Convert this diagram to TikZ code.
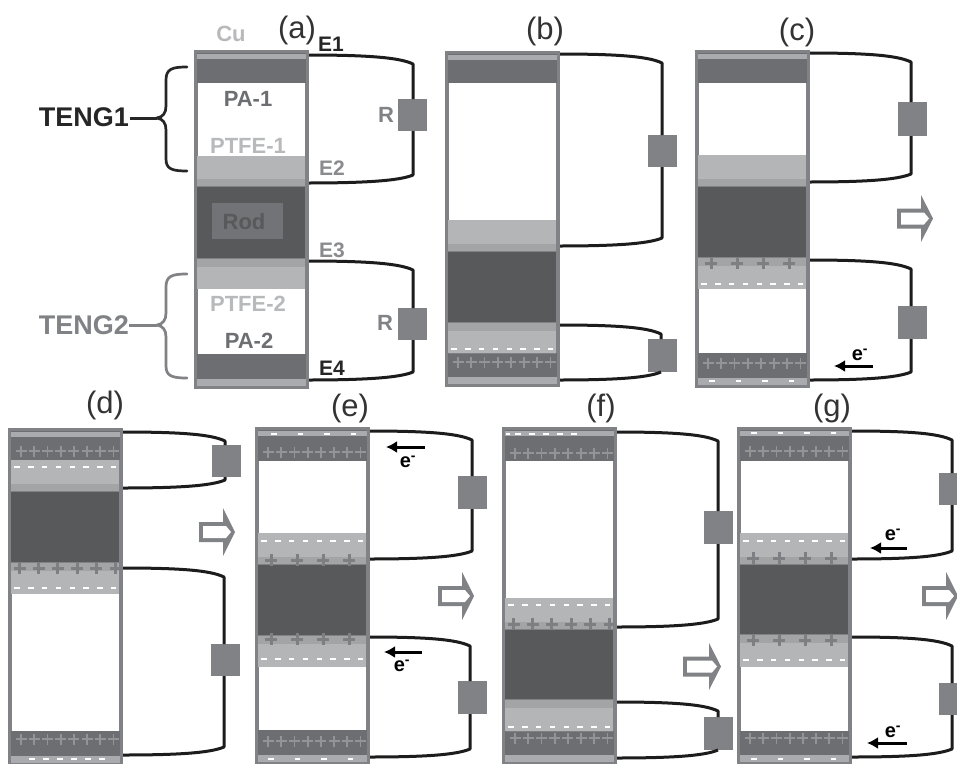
\documentclass[tikz,border=0pt]{standalone}
\usepackage{fontspec}
\setmainfont{Liberation Sans}
\usetikzlibrary{arrows.meta}
\definecolor{framec}{HTML}{808285}
\definecolor{elec}{HTML}{6D6E71}
\definecolor{rodc}{HTML}{58595B}
\definecolor{ptfec}{HTML}{B4B5B7}
\definecolor{bandc}{HTML}{A3A4A6}
\definecolor{cuc}{HTML}{A9ABAE}
\definecolor{plusc}{HTML}{939496}
\definecolor{plusd}{HTML}{7E7F82}
\definecolor{wirec}{HTML}{1C1C1C}
\definecolor{lab}{HTML}{6D6E71}
\definecolor{lightlab}{HTML}{B8B9BB}
\tikzset{
  x=1pt,y=-1pt,
  wire/.style={draw=wirec,line width=3pt,line join=round},
  rbox/.style={fill=framec,minimum width=29pt,minimum height=33pt,inner sep=0pt},
  captext/.style={font=\fontsize{31}{33}\selectfont,text=black!80,inner sep=0pt},
  matlab/.style={font=\bfseries\fontsize{22}{24}\selectfont,inner sep=0pt,text=lab},
  elab/.style={font=\bfseries\fontsize{20}{22}\selectfont,inner sep=0pt},
  tenglab/.style={font=\bfseries\fontsize{27}{29}\selectfont,inner sep=0pt},
  flow/.style={draw=black,line width=3pt,-{Latex[length=11pt,width=12pt]}},
  eleclabel/.style={font=\bfseries\fontsize{21}{23}\selectfont,inner sep=0pt,text=black!85},
  bracec/.style={line width=2.7pt,line cap=round,fill=none}
}
% panel: xl, top, bot, dark1 bottom, ptfe1 top, ptfe1 bottom, ptfe2 top, ptfe2 bottom, dark2 top
\newcommand\panelbox[9]{%
  \pgfmathsetmacro\xl{#1}\pgfmathsetmacro\xr{#1+115}%
  \fill[elec] (\xl,#2) rectangle (\xr,#3);
  \fill[framec] (\xl,#4) rectangle (\xr,#3);
  \fill[elec] (\xl+3,#2+3) rectangle (\xr-3,#4);
  \fill[elec] (\xl+3,#9) rectangle (\xr-3,#3-3);
  \fill[cuc] (\xl+3,#2+4) rectangle (\xr-3,#2+9);
  \fill[cuc] (\xl+3,#3-10) rectangle (\xr-3,#3-3);
  \fill[white] (\xl+4,#4) rectangle (\xr-4,#5);
  \fill[white] (\xl+4,#8) rectangle (\xr-4,#9);
  \fill[ptfec] (\xl+3,#5) rectangle (\xr-4,#6);
  \fill[bandc] (\xl+3,#6-7) rectangle (\xr-4,#6);
  \fill[ptfec] (\xl+3,#7) rectangle (\xr-4,#8);
  \fill[bandc] (\xl+3,#7) rectangle (\xr-4,#7+8);
  \fill[rodc] (\xl+3,#6+1) rectangle (\xr-4,#7-1);
  \draw[framec,line width=3pt] (\xl+1.5,#2+1.5) rectangle (\xr-1.5,#3-1.5);
}
% circuit: id, xstart, ytop, xcorner, Rtop, Rbot, ybottom, xRcentre
\newcommand\circuit[8]{%
  \coordinate (#1s) at (#2,#3);
  \coordinate (#1e) at (#2,#7);
  \coordinate (#1ca) at (#4,{#3+9});
  \coordinate (#1cb) at (#4,{#7-8});
  \node[rbox,minimum height={#6-#5}] (#1R) at (#8,{(#5+#6)/2}) {};
  \draw[wire] (#1s) .. controls ({#2+55},#3) and ({#4-14},{#3+2}) .. (#1ca) -- (#4,#5);
  \draw[wire] (#4,#6) -- (#1cb) .. controls ({#4-14},{#7-2}) and ({#2+55},#7) .. (#1e);
}
% plus signs: x0, dx, n, y, half size, width, colour
\newcommand\plusrow[7]{%
  \foreach \i in {1,...,#3}{%
    \pgfmathsetmacro\px{#1+(\i-1)*#2}%
    \draw[#7,line width=#6] (\px-#5,#4) -- (\px+#5,#4) (\px,#4-#5) -- (\px,#4+#5);
  }%
}
% white dashes: x0, dx, n, y
\newcommand\dashrow[4]{%
  \foreach \i in {1,...,#3}{%
    \pgfmathsetmacro\px{#1+(\i-1)*#2}%
    \fill[white] (\px-2.7,#4-1.2) rectangle (\px+2.7,#4+1.2);
  }%
}
\newcommand\eplus[2]{\plusrow{#1+13}{13.2}{8}{#2}{5.5}{1.8pt}{plusc}}
\newcommand\pfour[2]{\plusrow{#1+16}{26}{4}{#2}{6}{3pt}{plusd}}
\newcommand\psix[2]{\plusrow{#1+11.5}{19.2}{6}{#2}{6}{3pt}{plusd}}
\newcommand\deight[2]{\dashrow{#1+9}{13.8}{8}{#2}}
\newcommand\dfour[2]{\dashrow{#1+17}{26.4}{4}{#2}}
% block arrow: id x1 x2 y1 y2
\newcommand\blockarrow[5]{%
  \pgfmathsetmacro\my{(#4+#5)/2}%
  \fill[framec] (#2,\my-10) -- (#3-12,\my-10) -- (#3-12,#4) -- (#3,\my) -- (#3-12,#5) -- (#3-12,\my+10) -- (#2,\my+10) -- cycle;
  \fill[white] (#2+4,\my-6) -- (#3-9,\my-6) -- (#3-4,\my) -- (#3-9,\my+6) -- (#2+4,\my+6) -- cycle;
}
% electron flow: id, x from, x to, y, label x, label y
\newcommand\eflow[6]{%
  \coordinate (#1a) at (#2,#4);
  \coordinate (#1b) at (#3,#4);
  \draw[flow] (#1a) -- (#1b);
  \node[elab] (#1t) at (#5,#6) {e\textsuperscript{-}};
}
\begin{document}
\begin{tikzpicture}
\useasboundingbox (0,0) rectangle (957,763);
\fill[white] (0,0) rectangle (957,763);
% circuits are drawn under panels
\circuit{a1}{307}{55}{413}{99}{131}{183}{412}
\circuit{a2}{307}{261}{413}{308}{340}{380}{412}
\circuit{b1}{558}{54}{662}{135}{167}{246}{662}
\circuit{b2}{558}{325}{661}{339}{372}{380}{662}
\circuit{c1}{808}{53}{911}{102}{136}{182}{912}
\circuit{c2}{808}{260}{911}{306}{339}{380}{912}
\circuit{d1}{122}{432}{225}{445}{477}{488}{226}
\circuit{d2}{122}{568}{224}{644}{676}{755}{225}
\circuit{e1}{368}{431}{472}{476}{509}{559}{472}
\circuit{e2}{368}{637}{470}{681}{714}{757}{472}
\circuit{f1}{615}{432}{718}{511}{544}{627}{718}
\circuit{f2}{615}{702}{718}{717}{750}{758}{718}
\circuit{g1}{851}{431}{952}{473}{505}{559}{953}
\circuit{g2}{851}{637}{952}{683}{715}{757}{953}
% panel a
\panelbox{194}{50}{389}{83}{156}{186}{259}{289}{354}
\fill[elec!75!framec] (212,203) rectangle (283,239);
% panel b
\panelbox{445}{51}{387}{83}{220}{251}{323}{353}{353}
\deight{445}{349}
\eplus{445}{362}
% panel c
\panelbox{695}{50}{388}{83}{155}{186}{258}{289}{353}
\pfour{695}{263}
\deight{695}{284}
\eplus{695}{363}
\dfour{695}{381}
% panel d
\panelbox{8}{428}{766}{460}{460}{491}{563}{594}{731}
\eplus{8}{451}
\deight{8}{467}
\psix{8}{568}
\deight{8}{588}
\eplus{8}{739}
\dashrow{32}{14}{6}{759}
% panel e
\panelbox{255}{427}{765}{461}{533}{564}{636}{667}{730}
\dashrow{274}{26.5}{4}{434}
\eplus{255}{452}
\deight{255}{541}
\pfour{255}{560}
\pfour{255}{639}
\deight{255}{659}
\eplus{255}{741}
\dashrow{271}{26.5}{4}{759}
% panel f
\panelbox{502}{427}{765}{461}{598}{629}{700}{731}{731}
\dashrow{518}{14}{5}{434}
\fill[white] (506,432.8) rectangle (510,435.2);
\eplus{502}{453}
\deight{502}{605}
\psix{502}{624}
\deight{502}{727}
\eplus{502}{738}
% panel g
\panelbox{737}{427}{765}{461}{533}{564}{635}{667}{731}
\dfour{737}{433}
\eplus{737}{451}
\deight{737}{541}
\pfour{737}{558}
\pfour{737}{640}
\deight{737}{660}
\eplus{737}{738}
\dfour{737}{759}
% block arrows
\blockarrow{c}{897}{933}{195}{242}
\blockarrow{d}{199}{235}{508}{556}
\blockarrow{e}{438}{474}{572}{620}
\blockarrow{f}{683}{721}{643}{690}
\blockarrow{g}{922}{958}{572}{620}
% electron flows
\eflow{fc}{873}{834}{366}{860}{355}
\eflow{fe1}{425}{386}{447}{408}{462}
\eflow{fe2}{422}{384}{652}{402}{666}
\eflow{fg1}{907}{870}{548}{893}{535}
\eflow{fg2}{907}{867}{743}{893}{732}
% captions
\node[captext] (capa) at (297,30) {(a)};
\node[captext] (capb) at (545,31) {(b)};
\node[captext] (capc) at (797,32) {(c)};
\node[captext] (capd) at (105,405) {(d)};
\node[captext] (cape) at (350,408) {(e)};
\node[captext] (capf) at (601,408) {(f)};
\node[captext] (capg) at (832,408) {(g)};
% labels of panel a
\node[matlab,text=lightlab] (cu) at (231,34) {Cu};
\node[eleclabel] (e1) at (331,44) {E1};
\node[eleclabel,text=lab!80] (e2) at (332,168) {E2};
\node[eleclabel,text=lab!80] (e3) at (332,250) {E3};
\node[eleclabel] (e4) at (332,368) {E4};
\node[matlab] (pa1) at (248,99) {PA-1};
\node[matlab,text=lightlab] (pt1) at (248,146) {PTFE-1};
\node[matlab,text=rodc] (rod) at (244,222) {Rod};
\node[matlab,text=lightlab] (pt2) at (248,304) {PTFE-2};
\node[matlab] (pa2) at (249,341) {PA-2};
\node[matlab,text=framec] (r1) at (386,115) {R};
\node[matlab,text=framec] (r2) at (385,323) {R};
\node[tenglab,text=black!85,anchor=east] (t1) at (129,117) {TENG1};
\node[tenglab,text=framec,anchor=east] (t2) at (129,325) {TENG2};
% braces
\coordinate (b1a) at (187,67); \coordinate (b1b) at (187,171); \coordinate (b1t) at (157,118);
\coordinate (b2a) at (187,274); \coordinate (b2b) at (187,378); \coordinate (b2t) at (157,325);
\draw[bracec,draw=black!85] (b1a) .. controls (172,67) and (166,69) .. (166,80) -- (166,106) .. controls (166,113) and (163,117) .. (b1t) .. controls (163,119) and (166,123) .. (166,130) -- (166,159) .. controls (166,169) and (172,171) .. (b1b);
\draw[draw=black!85,line width=3pt] (t1.east) ++(1,1) -- (b1t);
\draw[bracec,draw=framec] (b2a) .. controls (172,274) and (166,276) .. (166,287) -- (166,313) .. controls (166,320) and (163,324) .. (b2t) .. controls (163,326) and (166,330) .. (166,337) -- (166,366) .. controls (166,376) and (172,378) .. (b2b);
\draw[draw=framec,line width=3pt] (t2.east) -- (b2t);
\end{tikzpicture}
\end{document}
